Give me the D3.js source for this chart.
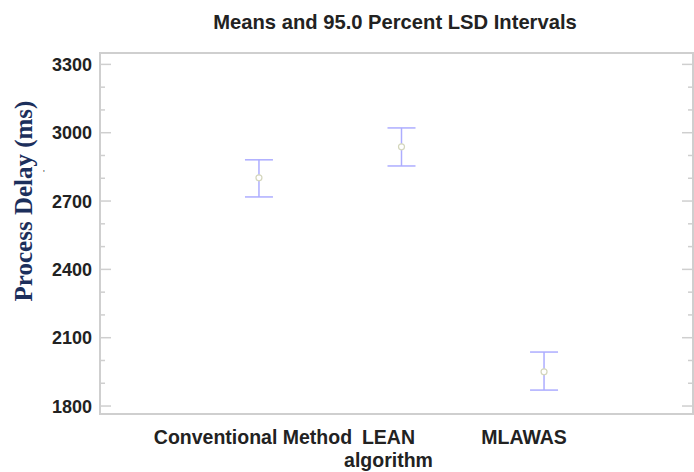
<!DOCTYPE html>
<html>
<head>
<meta charset="utf-8">
<script src="https://cdn.jsdelivr.net/npm/d3@7"></script>
<style>
	body { margin: 0; background: #fff; }
	svg { display: block; }
</style>
</head>
<body>
<div id="chart"></div>
<script>
// values
const groups = ["Conventional Method", "LEAN algorithm", "MLAWAS"];
const means = [2802, 2938, 1950];
const lower = [2718, 2854, 1870];
const upper = [2881, 3021, 2037];
const yTicks = [1800, 2100, 2400, 2700, 3000, 3300];
const yMinorTicks = d3.range(1800, 3301, 100);

const width = 694, height = 472;
const plotL = 100, plotR = 693, plotT = 53, plotB = 414;

const svg = d3.select("#chart").append("svg")
	.attr("width", width).attr("height", height);

const x = d3.scalePoint().domain(groups).range([110, plotR]).padding(1.045);
const y = d3.scaleLinear().domain([1765, 3350]).range([plotB, plotT]);

const frame = "#cfcfcf";
const sans = "Liberation Sans, Arial, sans-serif";

// frame
svg.append("rect")
	.attr("x", plotL).attr("y", plotT)
	.attr("width", plotR - plotL).attr("height", plotB - plotT)
	.attr("fill", "none").attr("stroke", frame).attr("stroke-width", 2);

// left axis, ticks pointing inward
const yAxis = svg.append("g").attr("transform", "translate(" + plotL + ",0)");
yAxis.selectAll("line").data(yMinorTicks).enter().append("line")
	.attr("x1", 0).attr("x2", d => yTicks.includes(d) ? 11 : 5)
	.attr("y1", d => y(d)).attr("y2", d => y(d))
	.attr("stroke", frame).attr("stroke-width", 1.5);
yAxis.selectAll("text").data(yTicks).enter().append("text")
	.attr("x", -8).attr("y", d => y(d))
	.attr("dy", "0.36em")
	.attr("text-anchor", "end")
	.attr("font-family", sans)
	.attr("font-weight", "bold").attr("font-size", 18)
	.attr("fill", "#222")
	.text(d => d);

// right axis mirror ticks
svg.append("g").attr("transform", "translate(" + plotR + ",0)")
	.selectAll("line").data(yMinorTicks).enter().append("line")
	.attr("x1", 0).attr("x2", d => yTicks.includes(d) ? -11 : -5)
	.attr("y1", d => y(d)).attr("y2", d => y(d))
	.attr("stroke", frame).attr("stroke-width", 1.5);

// error bars
const bars = svg.append("g").selectAll("g").data(groups).enter().append("g")
	.attr("stroke", "#adadff").attr("stroke-width", 1.5).attr("fill", "none");
bars.append("line")
	.attr("x1", d => x(d)).attr("x2", d => x(d))
	.attr("y1", (d, i) => y(upper[i])).attr("y2", (d, i) => y(lower[i]));
bars.append("line")
	.attr("x1", d => x(d) - 14).attr("x2", d => x(d) + 14)
	.attr("y1", (d, i) => y(upper[i])).attr("y2", (d, i) => y(upper[i]));
bars.append("line")
	.attr("x1", d => x(d) - 14).attr("x2", d => x(d) + 14)
	.attr("y1", (d, i) => y(lower[i])).attr("y2", (d, i) => y(lower[i]));
bars.append("circle")
	.attr("cx", d => x(d)).attr("cy", (d, i) => y(means[i]))
	.attr("r", 3).attr("stroke", "#d4d6bc").attr("stroke-width", 1.2)
	.attr("fill", "#fff");

// x labels (wrapped like the original)
const xl = svg.append("g")
	.attr("font-family", sans)
	.attr("font-weight", "bold").attr("font-size", 19.5)
	.attr("fill", "#222").attr("text-anchor", "middle");
const labelLines = { "Conventional Method": ["Conventional Method"], "LEAN algorithm": ["LEAN", "algorithm"], "MLAWAS": ["MLAWAS"] };
groups.forEach((g, i) => {
	const cx = x(g) - 6 - i * 7;
	const t = xl.append("text").attr("x", cx).attr("y", 444);
	labelLines[g].forEach((s, j) => {
		t.append("tspan").attr("x", cx).attr("dy", j ? 23 : 0).text(s);
	});
});

// title
svg.append("text")
	.attr("x", 395).attr("y", 29)
	.attr("text-anchor", "middle")
	.attr("font-family", sans)
	.attr("font-weight", "bold").attr("font-size", 20.2)
	.attr("fill", "#222")
	.text("Means and 95.0 Percent LSD Intervals");

// y title
svg.append("text")
	.attr("transform", "translate(32,201) rotate(-90)")
	.attr("text-anchor", "middle")
	.attr("font-family", "Liberation Serif, Times New Roman, serif")
	.attr("font-weight", "bold").attr("font-size", 25)
	.attr("fill", "#1c2f5c")
	.text("Process Delay (ms)");

// stray mark beside the axis title in the original
svg.append("text")
	.attr("x", 43).attr("y", 176)
	.attr("font-family", sans).attr("font-size", 9)
	.attr("fill", "#444")
	.text("'");
</script>
</body>
</html>
